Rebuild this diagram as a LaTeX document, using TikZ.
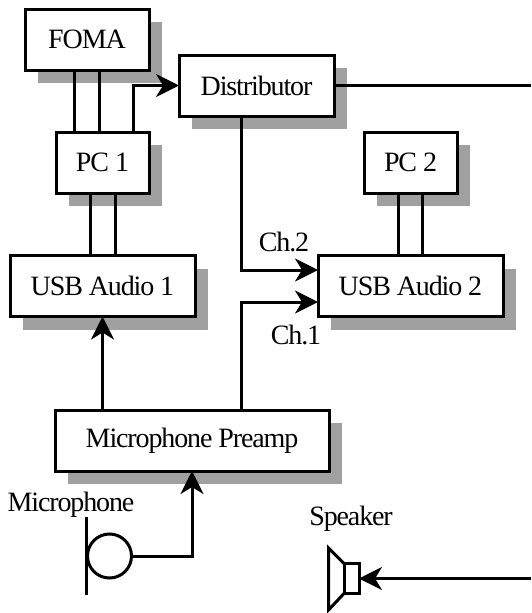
\documentclass[tikz,border=0pt]{standalone}
\usepackage{fontspec}
\setmainfont[LetterSpace=-4]{Liberation Serif}
\usetikzlibrary{arrows.meta,shadows}
\definecolor{shadowgray}{HTML}{A0A0A0}
\tikzset{
  block/.style={draw, fill=white, line width=3pt, inner sep=0pt, outer sep=0pt,
    minimum height=61pt,
    drop shadow={shadow xshift=13pt, shadow yshift=-13pt, fill=shadowgray, opacity=1, rounded corners=1pt}},
  wire/.style={line width=3pt},
  signal/.style={wire, -{Stealth[length=23pt,width=23pt,inset=7pt]}},
  label/.style={inner sep=0pt}
}
\begin{document}
\begin{tikzpicture}[x=1pt,y=-1pt,font=\fontsize{28}{32}\selectfont]
        \useasboundingbox (0,0) rectangle (531,613);

        \node [block, minimum width=124pt] (foma) at (87,39.5) {FOMA};
        \node [block, minimum width=155pt] (distributor) at (256.5,85.5) {Distributor};
        \node [block, minimum width=93pt] (pcone) at (102.5,162.5) {PC 1};
        \node [block, minimum width=93pt] (pctwo) at (410.5,162.5) {PC 2};
        \node [block, minimum width=185pt] (usbone) at (102.5,286) {USB Audio 1};
        \node [block, minimum width=185pt] (usbtwo) at (410.5,286) {USB Audio 2};
        \node [block, minimum width=274pt] (preamp) at (192,440.5) {Microphone Preamp};

        \node [label] (chtwo) at (284,242) {Ch.2};
        \node [label] (chone) at (296,335) {Ch.1};
        \node [label] (miclabel) at (71,505) {Microphone};
        \node [label] (spklabel) at (351,519) {Speaker};

        % microphone
        \node [draw, circle, wire, minimum size=44pt, inner sep=0pt, outer sep=0pt] (mic) at (109.5,556) {};
        \coordinate (mictop) at (86,517);
        \coordinate (micbottom) at (86,595);
        \draw [wire] (mictop) -- (micbottom);

        % speaker
        \node [draw, wire, minimum width=15pt, minimum height=30pt, inner sep=0pt, outer sep=0pt] (spk) at (351.5,578.5) {};
        \coordinate (spktop) at (328.5,548);
        \coordinate (spkbottom) at (328.5,610);
        \draw [wire] (spk.north west) -- (spktop) -- (spkbottom) -- (spk.south west);

        % free ends at the right edge
        \coordinate (outtop) at (531,85.5);
        \coordinate (outbottom) at (531,578.5);

        \draw [wire] (74,0 |- foma.south) -- (74,0 |- pcone.north);
        \draw [wire] (99,0 |- foma.south) -- (99,0 |- pcone.north);
        \draw [wire] (90,0 |- pcone.south) -- (90,0 |- usbone.north);
        \draw [wire] (115,0 |- pcone.south) -- (115,0 |- usbone.north);
        \draw [wire] (398,0 |- pctwo.south) -- (398,0 |- usbtwo.north);
        \draw [wire] (422,0 |- pctwo.south) -- (422,0 |- usbtwo.north);

        \draw [signal] (133,0 |- pcone.north) |- (distributor.west);
        \draw [signal] (241,0 |- distributor.south) |- (usbtwo.west |- 0,270);
        \draw [signal] (241,0 |- preamp.north) |- (usbtwo.west |- 0,302);
        \draw [signal] (102.5,0 |- preamp.north) -- (usbone.south);
        \draw [signal] (mic.east) -| (preamp.south);
        \draw [signal] (outbottom) -- (spk.east);
        \draw [wire] (distributor.east) -- (outtop);
      \end{tikzpicture}
\end{document}
